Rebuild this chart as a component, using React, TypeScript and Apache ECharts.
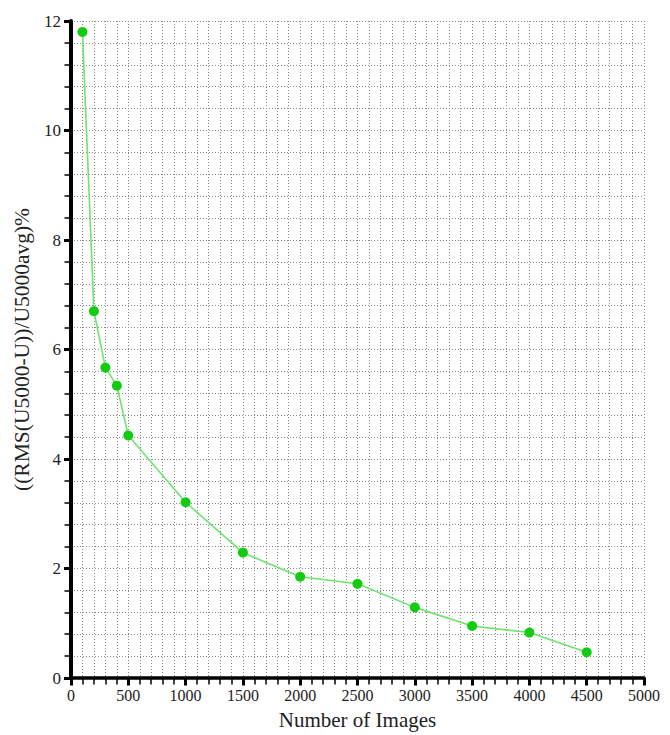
import React, { useEffect, useRef } from "react";
import * as echarts from "echarts";

const imageCounts = [100, 200, 300, 400, 500, 1000, 1500, 2000, 2500, 3000, 3500, 4000, 4500];
const rmsPercent = [11.8, 6.7, 5.67, 5.34, 4.43, 3.21, 2.29, 1.85, 1.72, 1.29, 0.95, 0.83, 0.47];

const xTitle = "Number of Images";
const yTitle = "((RMS(U5000-U))/U5000avg)%";

const FONT = "'Liberation Serif', 'Times New Roman', serif";

export default function App() {
  const ref = useRef<HTMLDivElement>(null);

  useEffect(() => {
    if (!ref.current) return;
    const chart = echarts.init(ref.current, null, { renderer: "svg" });

    // dotted grid, skipping the line that would sit on top of each axis
    const gridDots = { color: "#8a8a8a", width: 1, type: [1, 2] as number[] };
    const split = { show: true, showMinLine: false, lineStyle: gridDots };

    chart.setOption({
      animation: false,
      backgroundColor: "#ffffff",
      grid: { left: 71, right: 26, top: 21, bottom: 54, containLabel: false },
      xAxis: {
        type: "value",
        min: 0,
        max: 5000,
        interval: 500,
        name: xTitle,
        nameLocation: "middle",
        nameGap: 31,
        nameTextStyle: { fontFamily: FONT, fontSize: 21, color: "#222" },
        axisLine: { onZero: false, lineStyle: { color: "#000", width: 3.5 } },
        axisTick: { show: true, length: 7.5, lineStyle: { color: "#000", width: 3 } },
        minorTick: { show: true, splitNumber: 5, length: 6.5, lineStyle: { color: "#000", width: 1.5 } },
        axisLabel: { fontFamily: FONT, fontSize: 16, color: "#222", margin: 9, formatter: (v: number) => String(v) },
        splitLine: split,
        minorSplitLine: { show: true, lineStyle: gridDots },
      },
      yAxis: {
        type: "value",
        min: 0,
        max: 12,
        interval: 2,
        name: yTitle,
        nameLocation: "middle",
        nameGap: 35,
        nameRotate: 90,
        nameTextStyle: { fontFamily: FONT, fontSize: 21.5, color: "#222" },
        axisLine: { show: true, onZero: false, lineStyle: { color: "#000", width: 4 } },
        axisTick: { show: true, length: 7, lineStyle: { color: "#000", width: 3 } },
        minorTick: { show: true, splitNumber: 5, length: 6.5, lineStyle: { color: "#000", width: 1.5 } },
        axisLabel: { fontFamily: FONT, fontSize: 17, color: "#222", margin: 10 },
        splitLine: split,
        minorSplitLine: { show: true, lineStyle: gridDots },
      },
      series: [
        {
          type: "line",
          data: imageCounts.map((x, i) => [x, rmsPercent[i]]),
          symbol: "circle",
          symbolSize: 10,
          lineStyle: { color: "#6ee46e", width: 1.6 },
          itemStyle: { color: "#12cc12" },
          z: 3,
        },
      ],
    });

    return () => chart.dispose();
  }, []);

  return <div ref={ref} style={{ width: 670, height: 735, position: "absolute", left: 0, top: 0 }} />;
}
